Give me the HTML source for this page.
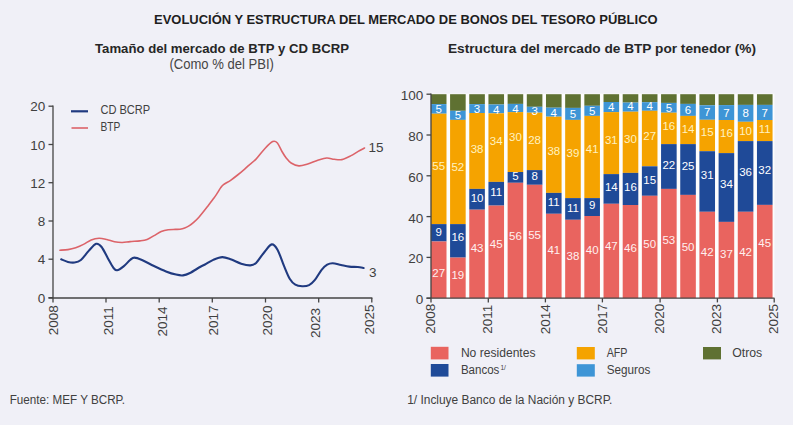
<!DOCTYPE html>
<html><head><meta charset="utf-8">
<style>
html,body{margin:0;padding:0;background:#f0f0f7;}
body{width:793px;height:425px;overflow:hidden;position:relative;font-family:"Liberation Sans",sans-serif;}
svg{position:absolute;left:0;top:0;}
text{font-family:"Liberation Sans",sans-serif;}
.ax{font-size:13.5px;fill:#404040;}
.lg{font-size:12px;fill:#404040;}
.bl text{font-size:11.5px;fill:#ffffff;text-anchor:middle;}
.bl .o{fill:#fff2c0;}
.bl .p{fill:#fff0f0;}
.t1{font-size:13px;font-weight:bold;fill:#1e1e1e;}
.t2{font-size:13.6px;font-weight:bold;fill:#262626;}
.st{font-size:14px;fill:#454545;}
.fn{font-size:12px;fill:#404040;}
</style></head><body>
<svg width="793" height="425" viewBox="0 0 793 425">
<rect x="0" y="0" width="793" height="425" fill="#f0f0f7"/>
<rect x="431" y="93.6" width="343.4" height="204.6" fill="#fdfdfd"/>
<text x="405.8" y="23.7" text-anchor="middle" class="t1" textLength="503.6" lengthAdjust="spacingAndGlyphs">EVOLUCIÓN Y ESTRUCTURA DEL MERCADO DE BONOS DEL TESORO PÚBLICO</text>
<text x="222" y="53" text-anchor="middle" class="t2" textLength="254" lengthAdjust="spacingAndGlyphs">Tamaño del mercado de BTP y CD BCRP</text>
<text x="221.7" y="69.2" text-anchor="middle" class="st" textLength="104.5" lengthAdjust="spacingAndGlyphs">(Como % del PBI)</text>
<text x="602" y="53" text-anchor="middle" class="t2" textLength="308" lengthAdjust="spacingAndGlyphs">Estructura del mercado de BTP por tenedor (%)</text>
<line x1="53" y1="105.6" x2="53" y2="298" stroke="#444444" stroke-width="1.3"/>
<line x1="48.5" y1="298" x2="372.4" y2="298" stroke="#444444" stroke-width="1.3"/>
<line x1="48.5" y1="106.2" x2="53" y2="106.2" stroke="#444444" stroke-width="1.3"/>
<text x="45.3" y="111.3" text-anchor="end" class="ax">20</text>
<line x1="48.5" y1="144.5" x2="53" y2="144.5" stroke="#444444" stroke-width="1.3"/>
<text x="45.3" y="149.6" text-anchor="end" class="ax">10</text>
<line x1="48.5" y1="182.7" x2="53" y2="182.7" stroke="#444444" stroke-width="1.3"/>
<text x="45.3" y="187.8" text-anchor="end" class="ax">12</text>
<line x1="48.5" y1="221.0" x2="53" y2="221.0" stroke="#444444" stroke-width="1.3"/>
<text x="45.3" y="226.1" text-anchor="end" class="ax">8</text>
<line x1="48.5" y1="259.2" x2="53" y2="259.2" stroke="#444444" stroke-width="1.3"/>
<text x="45.3" y="264.3" text-anchor="end" class="ax">4</text>
<line x1="48.5" y1="297.7" x2="53" y2="297.7" stroke="#444444" stroke-width="1.3"/>
<text x="45.3" y="302.8" text-anchor="end" class="ax">0</text>
<line x1="53.0" y1="298" x2="53.0" y2="302.5" stroke="#444444" stroke-width="1.3"/>
<line x1="106.0" y1="298" x2="106.0" y2="302.5" stroke="#444444" stroke-width="1.3"/>
<line x1="159.2" y1="298" x2="159.2" y2="302.5" stroke="#444444" stroke-width="1.3"/>
<line x1="212.3" y1="298" x2="212.3" y2="302.5" stroke="#444444" stroke-width="1.3"/>
<line x1="265.5" y1="298" x2="265.5" y2="302.5" stroke="#444444" stroke-width="1.3"/>
<line x1="318.7" y1="298" x2="318.7" y2="302.5" stroke="#444444" stroke-width="1.3"/>
<line x1="371.8" y1="298" x2="371.8" y2="302.5" stroke="#444444" stroke-width="1.3"/>
<text transform="translate(53.1,335.2) rotate(-90)" x="0" y="4.8" class="ax">2008</text>
<text transform="translate(108.0,335.2) rotate(-90)" x="0" y="4.8" class="ax">2011</text>
<text transform="translate(162.0,336.5) rotate(-90)" x="0" y="4.8" class="ax">2014</text>
<text transform="translate(213.5,335.5) rotate(-90)" x="0" y="4.8" class="ax">2017</text>
<text transform="translate(267.1,335.4) rotate(-90)" x="0" y="4.8" class="ax">2020</text>
<text transform="translate(315.6,337.9) rotate(-90)" x="0" y="4.8" class="ax">2023</text>
<text transform="translate(369.1,334.4) rotate(-90)" x="0" y="4.8" class="ax">2025</text>
<path d="M59.90,250.20 C61.23,250.10 65.27,250.02 67.90,249.60 C70.53,249.18 73.10,248.57 75.70,247.70 C78.30,246.83 80.92,245.70 83.50,244.40 C86.08,243.10 88.62,240.93 91.20,239.90 C93.78,238.87 96.40,238.27 99.00,238.20 C101.60,238.13 104.22,238.90 106.80,239.50 C109.38,240.10 111.92,241.30 114.50,241.80 C117.08,242.30 119.70,242.53 122.30,242.50 C124.90,242.47 127.15,241.87 130.10,241.60 C133.05,241.33 137.17,241.25 140.00,240.90 C142.83,240.55 144.75,240.38 147.10,239.50 C149.45,238.62 151.75,236.93 154.10,235.60 C156.45,234.27 158.85,232.48 161.20,231.50 C163.55,230.52 165.85,230.05 168.20,229.70 C170.55,229.35 173.33,229.48 175.30,229.40 C177.27,229.32 178.43,229.43 180.00,229.20 C181.57,228.97 183.13,228.58 184.70,228.00 C186.27,227.42 187.82,226.72 189.40,225.70 C190.98,224.68 192.62,223.32 194.20,221.90 C195.78,220.48 197.33,218.93 198.90,217.20 C200.47,215.47 202.03,213.47 203.60,211.50 C205.17,209.53 206.73,207.45 208.30,205.40 C209.87,203.35 211.63,201.03 213.00,199.20 C214.37,197.37 215.23,196.28 216.50,194.40 C217.77,192.52 219.43,189.53 220.60,187.90 C221.77,186.27 221.83,185.87 223.50,184.60 C225.17,183.33 228.25,181.90 230.60,180.30 C232.95,178.70 235.25,176.87 237.60,175.00 C239.95,173.13 242.83,170.72 244.70,169.10 C246.57,167.48 246.95,166.92 248.80,165.30 C250.65,163.68 253.07,162.25 255.80,159.40 C258.53,156.55 262.38,151.17 265.20,148.20 C268.02,145.23 270.67,142.47 272.70,141.60 C274.73,140.73 275.85,141.35 277.40,143.00 C278.95,144.65 280.53,149.00 282.00,151.50 C283.47,154.00 284.68,156.08 286.20,158.00 C287.72,159.92 288.98,161.68 291.10,163.00 C293.22,164.32 296.13,165.73 298.90,165.90 C301.67,166.07 304.55,164.93 307.70,164.00 C310.85,163.07 314.63,161.30 317.80,160.30 C320.97,159.30 323.97,158.17 326.70,158.00 C329.43,157.83 331.68,159.03 334.20,159.30 C336.72,159.57 339.07,160.17 341.80,159.60 C344.53,159.03 347.87,157.27 350.60,155.90 C353.33,154.53 355.88,152.72 358.20,151.40 C360.52,150.08 363.45,148.57 364.50,148.00" fill="none" stroke="#dc6369" stroke-width="1.6" stroke-linejoin="round" stroke-linecap="round"/>
<path d="M61.20,259.30 C62.32,259.73 65.70,261.37 67.90,261.90 C70.10,262.43 72.23,262.82 74.40,262.50 C76.57,262.18 78.52,261.93 80.90,260.00 C83.28,258.07 86.15,253.60 88.70,250.90 C91.25,248.20 94.05,244.45 96.20,243.80 C98.35,243.15 99.62,244.52 101.60,247.00 C103.58,249.48 106.15,255.25 108.10,258.70 C110.05,262.15 111.80,265.77 113.30,267.70 C114.80,269.63 115.38,270.52 117.10,270.30 C118.82,270.08 121.43,268.12 123.60,266.40 C125.77,264.68 128.30,261.47 130.10,260.00 C131.90,258.53 132.42,257.60 134.40,257.60 C136.38,257.60 138.73,258.60 142.00,260.00 C145.27,261.40 150.00,264.10 154.00,266.00 C158.00,267.90 162.33,269.97 166.00,271.40 C169.67,272.83 173.17,273.93 176.00,274.60 C178.83,275.27 180.67,275.67 183.00,275.40 C185.33,275.13 187.17,274.40 190.00,273.00 C192.83,271.60 197.50,268.42 200.00,267.00 C202.50,265.58 202.80,265.68 205.00,264.50 C207.20,263.32 210.32,261.13 213.20,259.90 C216.08,258.67 219.27,257.15 222.30,257.10 C225.33,257.05 228.25,258.50 231.40,259.60 C234.55,260.70 238.05,262.73 241.20,263.70 C244.35,264.67 247.82,265.53 250.30,265.40 C252.78,265.27 253.77,265.10 256.10,262.90 C258.43,260.70 261.70,255.28 264.30,252.20 C266.90,249.12 269.50,244.82 271.70,244.40 C273.90,243.98 275.43,246.07 277.50,249.70 C279.57,253.33 282.07,261.35 284.10,266.20 C286.13,271.05 287.83,275.72 289.70,278.80 C291.57,281.88 293.22,283.47 295.30,284.70 C297.38,285.93 299.90,286.13 302.20,286.20 C304.50,286.27 307.02,286.10 309.10,285.10 C311.18,284.10 312.62,282.75 314.70,280.20 C316.78,277.65 319.52,272.38 321.60,269.80 C323.68,267.22 325.35,265.78 327.20,264.70 C329.05,263.62 330.40,263.25 332.70,263.30 C335.00,263.35 338.23,264.45 341.00,265.00 C343.77,265.55 346.52,266.27 349.30,266.60 C352.08,266.93 355.32,266.77 357.70,267.00 C360.08,267.23 362.62,267.83 363.60,268.00" fill="none" stroke="#203a80" stroke-width="2.1" stroke-linejoin="round" stroke-linecap="round"/>
<text x="368.5" y="152" class="ax">15</text>
<text x="369" y="276.6" class="ax">3</text>
<line x1="71" y1="111.3" x2="88" y2="111.3" stroke="#203a80" stroke-width="2.2"/>
<line x1="71.5" y1="128" x2="88" y2="128" stroke="#dc6369" stroke-width="1.6"/>
<text x="100.4" y="113.9" class="lg" textLength="49.8" lengthAdjust="spacingAndGlyphs">CD BCRP</text>
<text x="100.4" y="130.7" class="lg" textLength="19.8" lengthAdjust="spacingAndGlyphs">BTP</text>
<rect x="430.90" y="94.20" width="15.60" height="9.90" fill="#5f7132"/>
<rect x="430.90" y="104.10" width="15.60" height="9.60" fill="#3e95d6"/>
<rect x="430.90" y="113.70" width="15.60" height="110.40" fill="#f5a300"/>
<rect x="430.90" y="224.10" width="15.60" height="17.40" fill="#1f4a98"/>
<rect x="430.90" y="241.50" width="15.60" height="56.70" fill="#e9645f"/>
<rect x="450.08" y="94.20" width="15.60" height="16.60" fill="#5f7132"/>
<rect x="450.08" y="110.80" width="15.60" height="9.10" fill="#3e95d6"/>
<rect x="450.08" y="119.90" width="15.60" height="104.20" fill="#f5a300"/>
<rect x="450.08" y="224.10" width="15.60" height="33.50" fill="#1f4a98"/>
<rect x="450.08" y="257.60" width="15.60" height="40.60" fill="#e9645f"/>
<rect x="469.26" y="94.20" width="15.60" height="9.90" fill="#5f7132"/>
<rect x="469.26" y="104.10" width="15.60" height="8.90" fill="#3e95d6"/>
<rect x="469.26" y="113.00" width="15.60" height="75.90" fill="#f5a300"/>
<rect x="469.26" y="188.90" width="15.60" height="20.80" fill="#1f4a98"/>
<rect x="469.26" y="209.70" width="15.60" height="88.50" fill="#e9645f"/>
<rect x="488.44" y="94.20" width="15.60" height="10.30" fill="#5f7132"/>
<rect x="488.44" y="104.50" width="15.60" height="8.80" fill="#3e95d6"/>
<rect x="488.44" y="113.30" width="15.60" height="68.60" fill="#f5a300"/>
<rect x="488.44" y="181.90" width="15.60" height="23.70" fill="#1f4a98"/>
<rect x="488.44" y="205.60" width="15.60" height="92.60" fill="#e9645f"/>
<rect x="507.62" y="94.20" width="15.60" height="9.70" fill="#5f7132"/>
<rect x="507.62" y="103.90" width="15.60" height="8.20" fill="#3e95d6"/>
<rect x="507.62" y="112.10" width="15.60" height="59.90" fill="#f5a300"/>
<rect x="507.62" y="172.00" width="15.60" height="10.80" fill="#1f4a98"/>
<rect x="507.62" y="182.80" width="15.60" height="115.40" fill="#e9645f"/>
<rect x="526.80" y="94.20" width="15.60" height="12.60" fill="#5f7132"/>
<rect x="526.80" y="106.80" width="15.60" height="5.90" fill="#3e95d6"/>
<rect x="526.80" y="112.70" width="15.60" height="57.40" fill="#f5a300"/>
<rect x="526.80" y="170.10" width="15.60" height="14.70" fill="#1f4a98"/>
<rect x="526.80" y="184.80" width="15.60" height="113.40" fill="#e9645f"/>
<rect x="545.98" y="94.20" width="15.60" height="13.50" fill="#5f7132"/>
<rect x="545.98" y="107.70" width="15.60" height="9.00" fill="#3e95d6"/>
<rect x="545.98" y="116.70" width="15.60" height="76.20" fill="#f5a300"/>
<rect x="545.98" y="192.90" width="15.60" height="20.90" fill="#1f4a98"/>
<rect x="545.98" y="213.80" width="15.60" height="84.40" fill="#e9645f"/>
<rect x="565.16" y="94.20" width="15.60" height="13.70" fill="#5f7132"/>
<rect x="565.16" y="107.90" width="15.60" height="12.00" fill="#3e95d6"/>
<rect x="565.16" y="119.90" width="15.60" height="78.20" fill="#f5a300"/>
<rect x="565.16" y="198.10" width="15.60" height="21.70" fill="#1f4a98"/>
<rect x="565.16" y="219.80" width="15.60" height="78.40" fill="#e9645f"/>
<rect x="584.34" y="94.20" width="15.60" height="11.60" fill="#5f7132"/>
<rect x="584.34" y="105.80" width="15.60" height="10.10" fill="#3e95d6"/>
<rect x="584.34" y="115.90" width="15.60" height="82.20" fill="#f5a300"/>
<rect x="584.34" y="198.10" width="15.60" height="17.90" fill="#1f4a98"/>
<rect x="584.34" y="216.00" width="15.60" height="82.20" fill="#e9645f"/>
<rect x="603.52" y="94.20" width="15.60" height="7.80" fill="#5f7132"/>
<rect x="603.52" y="102.00" width="15.60" height="10.10" fill="#3e95d6"/>
<rect x="603.52" y="112.10" width="15.60" height="62.00" fill="#f5a300"/>
<rect x="603.52" y="174.10" width="15.60" height="29.70" fill="#1f4a98"/>
<rect x="603.52" y="203.80" width="15.60" height="94.40" fill="#e9645f"/>
<rect x="622.70" y="94.20" width="15.60" height="8.40" fill="#5f7132"/>
<rect x="622.70" y="102.60" width="15.60" height="9.10" fill="#3e95d6"/>
<rect x="622.70" y="111.70" width="15.60" height="61.20" fill="#f5a300"/>
<rect x="622.70" y="172.90" width="15.60" height="32.10" fill="#1f4a98"/>
<rect x="622.70" y="205.00" width="15.60" height="93.20" fill="#e9645f"/>
<rect x="641.88" y="94.20" width="15.60" height="8.00" fill="#5f7132"/>
<rect x="641.88" y="102.20" width="15.60" height="8.60" fill="#3e95d6"/>
<rect x="641.88" y="110.80" width="15.60" height="55.50" fill="#f5a300"/>
<rect x="641.88" y="166.30" width="15.60" height="29.50" fill="#1f4a98"/>
<rect x="641.88" y="195.80" width="15.60" height="102.40" fill="#e9645f"/>
<rect x="661.06" y="94.20" width="15.60" height="8.70" fill="#5f7132"/>
<rect x="661.06" y="102.90" width="15.60" height="9.80" fill="#3e95d6"/>
<rect x="661.06" y="112.70" width="15.60" height="31.40" fill="#f5a300"/>
<rect x="661.06" y="144.10" width="15.60" height="44.80" fill="#1f4a98"/>
<rect x="661.06" y="188.90" width="15.60" height="109.30" fill="#e9645f"/>
<rect x="680.24" y="94.20" width="15.60" height="9.70" fill="#5f7132"/>
<rect x="680.24" y="103.90" width="15.60" height="12.00" fill="#3e95d6"/>
<rect x="680.24" y="115.90" width="15.60" height="28.20" fill="#f5a300"/>
<rect x="680.24" y="144.10" width="15.60" height="50.80" fill="#1f4a98"/>
<rect x="680.24" y="194.90" width="15.60" height="103.30" fill="#e9645f"/>
<rect x="699.42" y="94.20" width="15.60" height="11.10" fill="#5f7132"/>
<rect x="699.42" y="105.30" width="15.60" height="14.50" fill="#3e95d6"/>
<rect x="699.42" y="119.80" width="15.60" height="31.40" fill="#f5a300"/>
<rect x="699.42" y="151.20" width="15.60" height="60.60" fill="#1f4a98"/>
<rect x="699.42" y="211.80" width="15.60" height="86.40" fill="#e9645f"/>
<rect x="718.60" y="94.20" width="15.60" height="10.90" fill="#5f7132"/>
<rect x="718.60" y="105.10" width="15.60" height="14.90" fill="#3e95d6"/>
<rect x="718.60" y="120.00" width="15.60" height="33.10" fill="#f5a300"/>
<rect x="718.60" y="153.10" width="15.60" height="68.80" fill="#1f4a98"/>
<rect x="718.60" y="221.90" width="15.60" height="76.30" fill="#e9645f"/>
<rect x="737.78" y="94.20" width="15.60" height="10.70" fill="#5f7132"/>
<rect x="737.78" y="104.90" width="15.60" height="16.90" fill="#3e95d6"/>
<rect x="737.78" y="121.80" width="15.60" height="19.30" fill="#f5a300"/>
<rect x="737.78" y="141.10" width="15.60" height="70.70" fill="#1f4a98"/>
<rect x="737.78" y="211.80" width="15.60" height="86.40" fill="#e9645f"/>
<rect x="756.96" y="94.20" width="15.60" height="10.70" fill="#5f7132"/>
<rect x="756.96" y="104.90" width="15.60" height="15.10" fill="#3e95d6"/>
<rect x="756.96" y="120.00" width="15.60" height="21.10" fill="#f5a300"/>
<rect x="756.96" y="141.10" width="15.60" height="63.80" fill="#1f4a98"/>
<rect x="756.96" y="204.90" width="15.60" height="93.30" fill="#e9645f"/>
<g class="bl"><text x="438.70" y="276.60" class="p">27</text>
<text x="438.70" y="236.10">9</text>
<text x="438.70" y="169.80" class="o">55</text>
<text x="438.70" y="113.00">5</text>
<text x="457.88" y="278.50" class="p">19</text>
<text x="457.88" y="240.80">16</text>
<text x="457.88" y="170.70" class="o">52</text>
<text x="457.88" y="119.30">5</text>
<text x="477.06" y="251.60" class="p">43</text>
<text x="477.06" y="202.40">10</text>
<text x="477.06" y="153.00" class="o">38</text>
<text x="477.06" y="113.00">3</text>
<text x="496.24" y="248.10" class="p">45</text>
<text x="496.24" y="196.10">11</text>
<text x="496.24" y="144.80" class="o">34</text>
<text x="496.24" y="113.60">4</text>
<text x="515.42" y="239.90" class="p">56</text>
<text x="515.42" y="180.10">5</text>
<text x="515.42" y="141.40" class="o">30</text>
<text x="515.42" y="112.80">4</text>
<text x="534.60" y="238.90" class="p">55</text>
<text x="534.60" y="179.50">8</text>
<text x="534.60" y="144.20" class="o">28</text>
<text x="534.60" y="114.90">3</text>
<text x="553.78" y="253.80" class="p">41</text>
<text x="553.78" y="205.60">11</text>
<text x="553.78" y="154.90" class="o">38</text>
<text x="553.78" y="117.40">4</text>
<text x="572.96" y="260.10" class="p">38</text>
<text x="572.96" y="211.90">11</text>
<text x="572.96" y="156.80" class="o">39</text>
<text x="572.96" y="118.10">5</text>
<text x="592.14" y="253.80" class="p">40</text>
<text x="592.14" y="209.40">9</text>
<text x="592.14" y="153.00" class="o">41</text>
<text x="592.14" y="114.90">5</text>
<text x="611.32" y="249.50" class="p">47</text>
<text x="611.32" y="191.10">14</text>
<text x="611.32" y="144.20" class="o">31</text>
<text x="611.32" y="110.50">4</text>
<text x="630.50" y="252.10" class="p">46</text>
<text x="630.50" y="191.10">16</text>
<text x="630.50" y="142.90" class="o">30</text>
<text x="630.50" y="109.90">4</text>
<text x="649.68" y="248.10" class="p">50</text>
<text x="649.68" y="184.10">15</text>
<text x="649.68" y="140.40" class="o">27</text>
<text x="649.68" y="109.90">4</text>
<text x="668.86" y="243.90" class="p">53</text>
<text x="668.86" y="169.40">22</text>
<text x="668.86" y="130.00" class="o">16</text>
<text x="668.86" y="111.80">5</text>
<text x="688.04" y="250.90" class="p">50</text>
<text x="688.04" y="170.00">25</text>
<text x="688.04" y="133.20" class="o">14</text>
<text x="688.04" y="113.60">6</text>
<text x="707.22" y="255.90" class="p">42</text>
<text x="707.22" y="178.90">31</text>
<text x="707.22" y="136.30" class="o">15</text>
<text x="707.22" y="115.90">7</text>
<text x="726.40" y="258.00" class="p">37</text>
<text x="726.40" y="187.90">34</text>
<text x="726.40" y="137.00" class="o">16</text>
<text x="726.40" y="117.40">7</text>
<text x="745.58" y="255.90" class="p">42</text>
<text x="745.58" y="175.70">36</text>
<text x="745.58" y="134.50" class="o">10</text>
<text x="745.58" y="117.40">8</text>
<text x="764.76" y="246.70" class="p">45</text>
<text x="764.76" y="173.80">32</text>
<text x="764.76" y="133.20" class="o">11</text>
<text x="764.76" y="117.40">7</text></g>
<line x1="431" y1="93.6" x2="431" y2="298.2" stroke="#444444" stroke-width="1.3"/>
<line x1="426.5" y1="298.2" x2="774.5" y2="298.2" stroke="#444444" stroke-width="1.3"/>
<line x1="426.5" y1="94.2" x2="431" y2="94.2" stroke="#444444" stroke-width="1.3"/>
<text x="423.3" y="100.1" text-anchor="end" class="ax">100</text>
<line x1="426.5" y1="135.0" x2="431" y2="135.0" stroke="#444444" stroke-width="1.3"/>
<text x="423.3" y="140.9" text-anchor="end" class="ax">80</text>
<line x1="426.5" y1="175.8" x2="431" y2="175.8" stroke="#444444" stroke-width="1.3"/>
<text x="423.3" y="181.7" text-anchor="end" class="ax">60</text>
<line x1="426.5" y1="216.6" x2="431" y2="216.6" stroke="#444444" stroke-width="1.3"/>
<text x="423.3" y="222.5" text-anchor="end" class="ax">40</text>
<line x1="426.5" y1="257.4" x2="431" y2="257.4" stroke="#444444" stroke-width="1.3"/>
<text x="423.3" y="263.3" text-anchor="end" class="ax">20</text>
<line x1="426.5" y1="298.2" x2="431" y2="298.2" stroke="#444444" stroke-width="1.3"/>
<text x="423.3" y="304.1" text-anchor="end" class="ax">0</text>
<line x1="431.0" y1="298.2" x2="431.0" y2="302.4" stroke="#444444" stroke-width="1.3"/>
<line x1="488.3" y1="298.2" x2="488.3" y2="302.4" stroke="#444444" stroke-width="1.3"/>
<line x1="545.4" y1="298.2" x2="545.4" y2="302.4" stroke="#444444" stroke-width="1.3"/>
<line x1="602.4" y1="298.2" x2="602.4" y2="302.4" stroke="#444444" stroke-width="1.3"/>
<line x1="660.1" y1="298.2" x2="660.1" y2="302.4" stroke="#444444" stroke-width="1.3"/>
<line x1="717.4" y1="298.2" x2="717.4" y2="302.4" stroke="#444444" stroke-width="1.3"/>
<line x1="774.2" y1="298.2" x2="774.2" y2="302.4" stroke="#444444" stroke-width="1.3"/>
<text transform="translate(430.2,333.8) rotate(-90)" x="0" y="4.8" class="ax">2008</text>
<text transform="translate(486.9,333.8) rotate(-90)" x="0" y="4.8" class="ax">2011</text>
<text transform="translate(544.9,334.2) rotate(-90)" x="0" y="4.8" class="ax">2014</text>
<text transform="translate(602.1,333.8) rotate(-90)" x="0" y="4.8" class="ax">2017</text>
<text transform="translate(659.5,333.8) rotate(-90)" x="0" y="4.8" class="ax">2020</text>
<text transform="translate(716.3,333.9) rotate(-90)" x="0" y="4.8" class="ax">2023</text>
<text transform="translate(773.5,333.9) rotate(-90)" x="0" y="4.8" class="ax">2025</text>
<rect x="430.8" y="346.8" width="17.7" height="12.6" fill="#e9645f"/>
<rect x="430.8" y="364" width="17.7" height="12.6" fill="#1f4a98"/>
<rect x="576.8" y="347" width="18" height="12.4" fill="#f5a300"/>
<rect x="576.8" y="364.2" width="18" height="12.4" fill="#3e95d6"/>
<rect x="703" y="347" width="18" height="12.4" fill="#5f7132"/>
<text x="460.9" y="357.1" class="lg" textLength="74.6" lengthAdjust="spacingAndGlyphs">No residentes</text>
<text x="460.9" y="373.9" class="lg" textLength="38.5" lengthAdjust="spacingAndGlyphs">Bancos</text>
<text x="500.4" y="369.7" class="lg" style="font-size:6.5px">1/</text>
<text x="606.7" y="357.1" class="lg" textLength="20.8" lengthAdjust="spacingAndGlyphs">AFP</text>
<text x="606.7" y="373.9" class="lg" textLength="43.6" lengthAdjust="spacingAndGlyphs">Seguros</text>
<text x="732.2" y="357.1" class="lg" textLength="30" lengthAdjust="spacingAndGlyphs">Otros</text>
<text x="9.7" y="403.7" class="fn" textLength="115.4" lengthAdjust="spacingAndGlyphs">Fuente: MEF Y BCRP.</text>
<text x="407.2" y="403.7" class="fn" textLength="205.2" lengthAdjust="spacingAndGlyphs">1/ Incluye Banco de la Nación y BCRP.</text>
</svg>
</body></html>
